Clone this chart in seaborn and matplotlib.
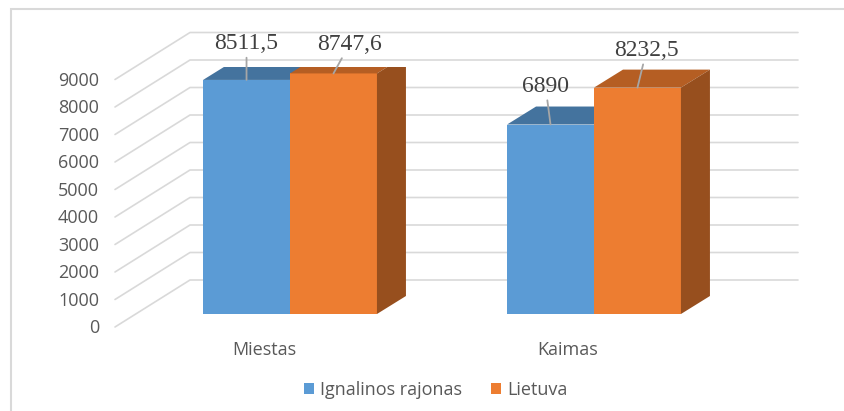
import matplotlib
matplotlib.use("Agg")
from matplotlib import pyplot as plt
from matplotlib import transforms
from matplotlib.patches import Polygon, Rectangle
import pandas as pd
import seaborn as sns

categories = ["Miestas", "Kaimas"]
series = ["Ignalinos rajonas", "Lietuva"]
ignalina = [8511.5, 6890]
lietuva = [8747.6, 8232.5]
yticks = [0, 1000, 2000, 3000, 4000, 5000, 6000, 7000, 8000, 9000]

df = pd.DataFrame({
    "Vieta": categories * 2,
    "Serija": [series[0]] * 2 + [series[1]] * 2,
    "Reiksme": ignalina + lietuva,
})

# colours: front / top / side
blue = ["#5B9BD5", "#44739E", "#3A6790"]
orange = ["#ED7D31", "#B55E23", "#974F1E"]
grid_c = "#D9D9D9"
text_c = "#595959"

W, H, DPI = 844, 411, 100
DX, DY = 29, 18          # bar depth in pixels
sns.set_style("white")
plt.rcParams["font.family"] = ["Open Sans", "DejaVu Sans"]

fig = plt.figure(figsize=(W / DPI, H / DPI), dpi=DPI)
ax = fig.add_axes([0, 97 / H, 1, 247.5 / H])

sns.barplot(data=df, x="Vieta", y="Reiksme", hue="Serija",
            palette=[blue[0], orange[0]], saturation=1, width=0.572,
            gap=0, ax=ax, linewidth=0)
ax.set_xlim(-290 / 304, (W - 290) / 304)
ax.set_ylim(0, 9000)
ax.set_axis_off()

ident = transforms.IdentityTransform()

# back wall / floor grid lines
for v in yticks:
    yd = ax.transData.transform((0, v))[1]
    ax.plot([115, 190, 798], [yd - 13, yd + 34, yd + 34], color=grid_c,
            lw=1.2, transform=ident, clip_on=False, zorder=0.5)
    ax.text(99, yd - 14, f"{v}", ha="right", va="center", fontsize=13,
            color=text_c, transform=ident)

# 3d faces + labels
label_off = [[(0, 36), (-5, 38)], [(16, 29), (9, 37)]]
for k, (cont, cols) in enumerate(zip(ax.containers, [blue, orange])):
    for j, bar in enumerate(cont):
        bar.set_zorder(2 + k)
        x0, h, w = bar.get_x(), bar.get_height(), bar.get_width()
        (ax0, ay0), (ax1, ay1) = ax.transData.transform([(x0, 0), (x0 + w, h)])
        top = Polygon([(ax0, ay1), (ax1, ay1), (ax1 + DX, ay1 + DY), (ax0 + DX, ay1 + DY)],
                      closed=True, fc=cols[1], ec="none", transform=ident, zorder=2.1 + k)
        side = Polygon([(ax1, ay1), (ax1 + DX, ay1 + DY), (ax1 + DX, ay0 + DY), (ax1, ay0)],
                       closed=True, fc=cols[2], ec="none", transform=ident, zorder=2.1 + k)
        ax.add_patch(top)
        ax.add_patch(side)
        ox, oy = label_off[k][j]
        ax.annotate(f"{h:g}".replace(".", ","), xy=(x0 + w / 2, h),
                    xytext=(ox, oy), textcoords="offset pixels",
                    ha="center", va="center", fontsize=17,
                    family="Liberation Serif", color="#404040", zorder=6,
                    arrowprops=dict(arrowstyle="-", color="#A6A6A6", lw=1.3,
                                    shrinkA=0, shrinkB=0))

# category labels
for i, c in enumerate(categories):
    ax.annotate(c, xy=(i, 0), xytext=(-26, -36), textcoords="offset pixels",
                ha="center", va="center", fontsize=13, color=text_c)

sns.move_legend(ax, "center", bbox_to_anchor=(436 / W, 1 - 390 / H),
                bbox_transform=fig.transFigure, ncol=2, frameon=False,
                title=None, fontsize=13, labelcolor=text_c,
                handlelength=0.55, handleheight=0.55, handletextpad=0.35,
                columnspacing=1.6)

# chart border
fig.patches.append(Rectangle((11 / W, -0.1), 2, 1.1 - 9 / H, fill=False,
                             ec=grid_c, lw=1.5, transform=fig.transFigure))

fig.savefig("out.png", dpi=DPI)
